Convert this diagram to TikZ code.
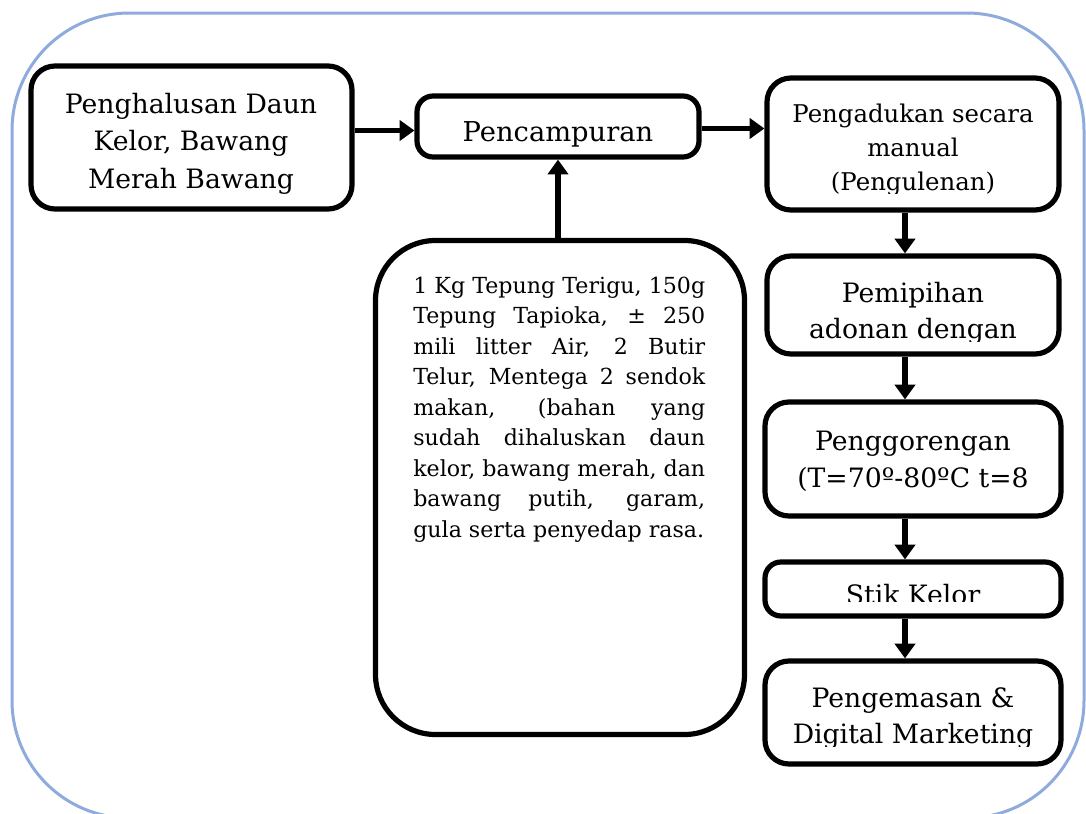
\documentclass[tikz,border=0pt]{standalone}
\usepackage{fontspec}
\setmainfont{DejaVu Serif}
\usetikzlibrary{arrows.meta,fit,calc}
\definecolor{framecol}{RGB}{143,170,220}
\tikzset{
  flowbox/.style={draw=black, line width=3.9pt, fill=white, rounded corners=18pt, inner sep=0pt},
  flowarrow/.style={line width=3.9pt, -{Triangle[length=11pt,width=15pt]}},
  frameline/.style={draw=framecol, line width=2.25pt, rounded corners=88pt},
  boxtext/.style={inner sep=0pt, align=center, anchor=base},
}
\begin{document}
\begin{tikzpicture}[x=0.75pt,y=-0.75pt]
\useasboundingbox (0,0) rectangle (1086,814);
\clip (0,0) rectangle (1086,814);
% outer frame
\draw[frameline] (12,13) rectangle (1084,818);
% boxes
\node[flowbox, fit={(31,66) (352,209)}] (box1) {};
\node[flowbox, rounded corners=12pt, fit={(417,96) (699,157)}] (pen) {};
\node[flowbox, fit={(767,78) (1059,210)}] (box3) {};
\node[flowbox, fit={(767,256) (1059,354)}] (box4) {};
\node[flowbox, fit={(765,402) (1061,516)}] (box5) {};
\node[flowbox, rounded corners=12pt, fit={(765,562) (1061,616)}] (box6) {};
\node[flowbox, fit={(765,661) (1061,764)}] (box7) {};
\node[flowbox, rounded corners=45pt, fit={(375.5,240.5) (744.5,734.5)}] (big) {};
% texts (multi-line nodes: base = last line's baseline)
\begin{scope}
\clip (31,66) rectangle (352,193);
\node[boxtext, font=\fontsize{20pt}{28.1pt}\selectfont] (t1) at (191,188) {Penghalusan Daun\\Kelor, Bawang\\Merah Bawang};
\end{scope}
\node[boxtext, font=\fontsize{20.5pt}{28pt}\selectfont] (t2) at (558,141) {Pencampuran};
\begin{scope}
\clip (767,78) rectangle (1059,193);
\node[boxtext, font=\fontsize{18.3pt}{25.5pt}\selectfont] (t3) at (913,190) {Pengadukan secara\\manual\\(Pengulenan)};
\end{scope}
\begin{scope}
\clip (767,256) rectangle (1059,341);
\node[boxtext, font=\fontsize{20pt}{27pt}\selectfont] (t4) at (913,338) {Pemipihan\\adonan dengan};
\end{scope}
\begin{scope}
\clip (765,402) rectangle (1061,493);
\node[boxtext, font=\fontsize{20pt}{27.75pt}\selectfont] (t5) at (913,487) {Penggorengan\\(T=70º-80ºC t=8};
\end{scope}
\begin{scope}
\clip (765,562) rectangle (1061,601);
\node[boxtext, font=\fontsize{20pt}{27pt}\selectfont] (t6) at (913,604) {Stik Kelor};
\end{scope}
\begin{scope}
\clip (765,661) rectangle (1061,746);
\node[boxtext, font=\fontsize{20pt}{27pt}\selectfont] (t7) at (913,743) {Pengemasan \&\\Digital Marketing};
\end{scope}
\node[inner sep=0pt, anchor=base west] (t8) at (413,293) {%
\begin{minipage}[t]{219pt}\fontsize{16.6pt}{22.9pt}\selectfont\setlength{\parindent}{0pt}%
\makebox[\linewidth][s]{1 Kg Tepung Terigu, 150g}\\
\makebox[\linewidth][s]{Tepung Tapioka, ± 250}\\
\makebox[\linewidth][s]{mili litter Air, 2 Butir}\\
\makebox[\linewidth][s]{Telur, Mentega 2 sendok}\\
\makebox[\linewidth][s]{makan, (bahan yang}\\
\makebox[\linewidth][s]{sudah dihaluskan daun}\\
\makebox[\linewidth][s]{kelor, bawang merah, dan}\\
\makebox[\linewidth][s]{bawang putih, garam,}\\
gula serta penyedap rasa.
\end{minipage}};
% arrows
\draw[flowarrow] ($(box1.east |- pen.west)+(0,4)$) -- ($(pen.west)+(0,4)$);
\draw[flowarrow] ($(pen.east)+(0,2)$) -- ($(pen.east -| box3.west)+(0,2)$);
\draw[flowarrow] (pen.south |- big.north) -- (pen.south);
\draw[flowarrow] ($(box3.south)+(-8,0)$) -- ($(box4.north)+(-8,0)$);
\draw[flowarrow] ($(box4.south)+(-8,0)$) -- ($(box5.north)+(-8,0)$);
\draw[flowarrow] ($(box5.south)+(-8,0)$) -- ($(box6.north)+(-8,0)$);
\draw[flowarrow] ($(box6.south)+(-8,0)$) -- ($(box7.north)+(-8,0)$);
\end{tikzpicture}
\end{document}
